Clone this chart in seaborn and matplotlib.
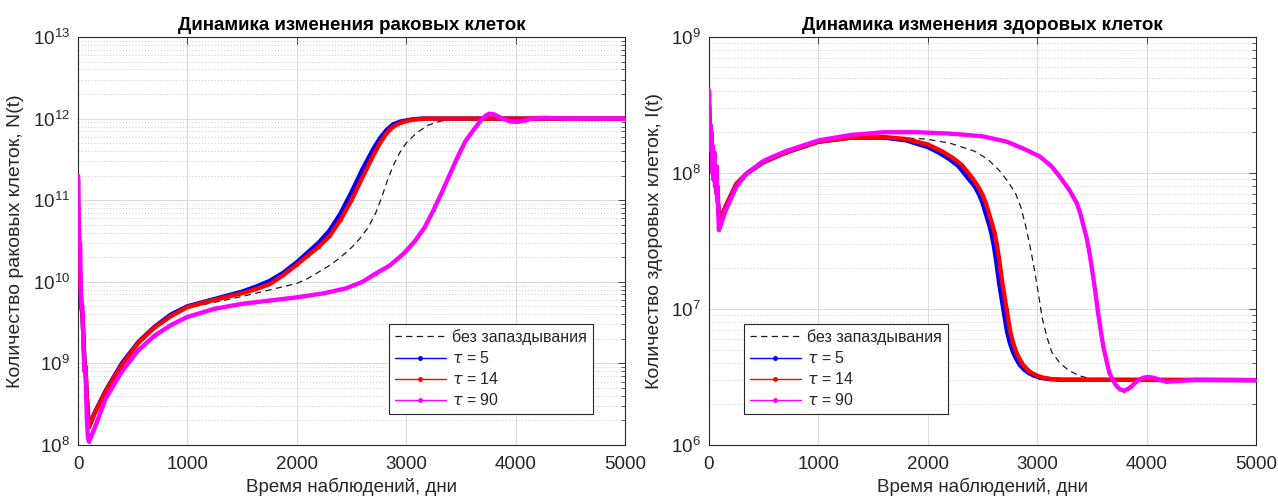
import numpy as np
import pandas as pd
import matplotlib
matplotlib.use("Agg")
import matplotlib.pyplot as plt
from matplotlib.lines import Line2D
from matplotlib.ticker import LogLocator, LogFormatterMathtext, FixedLocator, NullLocator
import seaborn as sns

# ---------------- data (log10 of cell counts) ----------------
# Left panel: cancer cells N(t)
t_n_nodelay = [0, 10, 20, 30, 40, 50, 60, 70, 80, 90, 100, 150, 250, 400, 550, 700, 850, 1000,
               1250, 1500, 1750, 2000, 2100, 2200, 2300, 2400, 2500, 2570, 2650, 2720, 2780,
               2830, 2890, 2940, 3000, 3090, 3200, 3320, 3470, 4000, 5000]
logn_nodelay = [10.5, 10.4, 10.2, 9.9, 9.7, 9.4, 9.1, 8.8, 8.5, 8.3, 8.22, 8.38, 8.65, 8.98, 9.25,
                9.44, 9.58, 9.68, 9.75, 9.82, 9.9, 9.98, 10.04, 10.12, 10.2, 10.3, 10.42, 10.52,
                10.66, 10.84, 11.05, 11.25, 11.45, 11.58, 11.7, 11.82, 11.92, 11.97, 12.0, 12.0,
                12.0]

t_n_tau5 = [0, 10, 20, 30, 40, 50, 60, 70, 80, 90, 100, 150, 250, 400, 550, 700, 850, 1000,
            1250, 1500, 1625, 1750, 1875, 2000, 2100, 2200, 2300, 2400, 2500, 2600, 2700, 2760,
            2820, 2880, 2950, 3050, 3150, 3500, 4000, 5000]
logn_tau5 = [10.5, 10.45, 10.0, 9.7, 9.6, 9.3, 9.0, 8.9, 8.6, 8.4, 8.22, 8.39, 8.66, 9.0, 9.26,
             9.45, 9.6, 9.7, 9.79, 9.88, 9.94, 10.01, 10.11, 10.24, 10.36, 10.48, 10.63, 10.84,
             11.1, 11.38, 11.63, 11.76, 11.86, 11.93, 11.965, 11.99, 12.0, 12.0, 12.0, 12.0]

t_n_tau14 = [0, 10, 20, 30, 40, 50, 60, 70, 80, 90, 100, 150, 250, 400, 550, 700, 850, 1000,
             1250, 1500, 1625, 1750, 1875, 2000, 2100, 2200, 2300, 2400, 2500, 2600, 2700, 2760,
             2820, 2880, 2950, 3050, 3150, 3500, 4000, 5000]
logn_tau14 = [10.5, 10.45, 10.05, 9.72, 9.62, 9.3, 9.0, 8.95, 8.6, 8.4, 8.22, 8.38, 8.65, 8.98,
              9.25, 9.44, 9.58, 9.69, 9.78, 9.86, 9.91, 9.97, 10.08, 10.21, 10.32, 10.43, 10.56,
              10.76, 11.0, 11.28, 11.55, 11.7, 11.82, 11.9, 11.95, 11.985, 12.0, 12.0, 12.0, 12.0]

t_n_tau90 = [0, 3, 6, 10, 15, 20, 25, 30, 35, 40, 45, 50, 55, 60, 65, 70, 75, 80, 90, 100,
             150, 250, 400, 550, 700, 850, 1000, 1250, 1500, 1750, 2000, 2250, 2450, 2600,
             2720, 2850, 2980, 3080, 3170, 3250, 3320, 3400, 3470, 3540, 3620, 3690, 3730,
             3760, 3800, 3850, 3900, 3950, 4010, 4080, 4150, 4250, 4350, 4500, 5000]
logn_tau90 = [11.3, 11.25, 10.9, 10.6, 10.47, 10.45, 10.0, 9.75, 9.68, 9.7, 9.5, 9.2, 9.0, 8.9,
              8.95, 8.85, 8.6, 8.35, 8.1, 8.04, 8.2, 8.56, 8.9, 9.16, 9.34, 9.47, 9.57, 9.67,
              9.73, 9.77, 9.81, 9.86, 9.92, 10.0, 10.1, 10.2, 10.35, 10.5, 10.67, 10.88, 11.08,
              11.32, 11.53, 11.72, 11.87, 11.99, 12.04, 12.06, 12.055, 12.02, 11.99, 11.965,
              11.96, 11.975, 12.0, 12.01, 12.005, 12.0, 12.0]

# Right panel: healthy cells I(t)
t_i_nodelay = [0, 10, 20, 30, 40, 50, 60, 70, 80, 90, 100, 150, 250, 350, 500, 700, 1000, 1500,
               1981, 2200, 2429, 2550, 2651, 2730, 2802, 2850, 2895, 2935, 2970, 3010, 3044,
               3090, 3135, 3210, 3287, 3380, 3474, 3600, 5000]
logi_nodelay = [8.5, 8.3, 8.22, 8.15, 8.1, 8.05, 7.95, 7.9, 7.8, 7.7, 7.65, 7.75, 7.92, 8.0,
                8.08, 8.15, 8.23, 8.27, 8.25, 8.22, 8.16, 8.1, 8.02, 7.94, 7.85, 7.75, 7.61,
                7.46, 7.31, 7.12, 6.94, 6.79, 6.68, 6.6, 6.55, 6.51, 6.49, 6.48, 6.477]

t_i_tau5 = [0, 10, 20, 30, 40, 50, 60, 70, 80, 90, 100, 150, 250, 350, 500, 700, 1000, 1300,
            1600, 1800, 2000, 2100, 2200, 2280, 2380, 2430, 2470, 2500, 2530, 2560, 2580, 2600,
            2620, 2650, 2670, 2690, 2710, 2725, 2750, 2780, 2810, 2840, 2880, 2920, 2970, 3025,
            3100, 3200, 5000]
logi_tau5 = [8.5, 8.3, 8.25, 8.15, 8.1, 8.05, 7.95, 7.9, 7.8, 7.7, 7.65, 7.75, 7.92, 8.0, 8.08,
             8.15, 8.23, 8.26, 8.26, 8.24, 8.19, 8.15, 8.1, 8.05, 7.95, 7.9, 7.84, 7.78, 7.7,
             7.62, 7.56, 7.48, 7.38, 7.2, 7.1, 7.0, 6.9, 6.83, 6.75, 6.68, 6.63, 6.59, 6.555,
             6.53, 6.51, 6.495, 6.485, 6.48, 6.477]

t_i_tau14 = [0, 10, 20, 30, 40, 50, 60, 70, 80, 90, 100, 150, 250, 350, 500, 700, 1000, 1300,
             1600, 1800, 2000, 2130, 2230, 2310, 2410, 2460, 2500, 2530, 2560, 2590, 2610, 2630,
             2650, 2680, 2700, 2720, 2740, 2755, 2780, 2810, 2840, 2870, 2910, 2950, 3000, 3055,
             3130, 3230, 5000]
logi_tau14 = [8.5, 8.3, 8.25, 8.15, 8.1, 8.05, 7.95, 7.9, 7.8, 7.7, 7.65, 7.75, 7.92, 8.0, 8.08,
              8.15, 8.23, 8.26, 8.265, 8.25, 8.21, 8.16, 8.11, 8.06, 7.96, 7.9, 7.84, 7.78, 7.7,
              7.62, 7.56, 7.48, 7.38, 7.2, 7.1, 7.0, 6.9, 6.83, 6.75, 6.68, 6.63, 6.59, 6.555,
              6.53, 6.51, 6.495, 6.485, 6.48, 6.477]

t_i_tau90 = [0, 3, 6, 10, 15, 20, 25, 30, 35, 40, 45, 50, 55, 60, 65, 70, 75, 80, 85, 90, 100,
             150, 250, 350, 500, 700, 1000, 1300, 1600, 1900, 2200, 2500, 2724, 2900, 3025,
             3130, 3209, 3290, 3361, 3395, 3420, 3450, 3474, 3500, 3529, 3555, 3585, 3605, 3625,
             3645, 3660, 3690, 3720, 3755, 3790, 3825, 3860, 3900, 3930, 3970, 4013, 4060, 4100,
             4180, 4300, 4450, 5000]
logi_tau90 = [8.61, 8.55, 8.3, 8.17, 8.35, 8.2, 8.3, 8.0, 8.2, 7.95, 8.1, 8.15, 7.9, 8.05, 7.85,
              8.05, 7.8, 7.9, 7.7, 7.58, 7.6, 7.72, 7.9, 8.0, 8.09, 8.16, 8.24, 8.28, 8.3, 8.3,
              8.29, 8.27, 8.23, 8.17, 8.12, 8.05, 7.97, 7.88, 7.78, 7.7, 7.62, 7.53, 7.43, 7.3,
              7.14, 6.98, 6.82, 6.72, 6.65, 6.58, 6.53, 6.48, 6.44, 6.41, 6.40, 6.41, 6.43, 6.46,
              6.48, 6.495, 6.50, 6.495, 6.485, 6.465, 6.47, 6.48, 6.477]

legend_labels = ["без запаздывания", r"$\tau$ = 5", r"$\tau$ = 14", r"$\tau$ = 90"]
titles = ["Динамика изменения раковых клеток", "Динамика изменения здоровых клеток"]
ylabels = ["Количество раковых клеток, N(t)", "Количество здоровых клеток, I(t)"]
xlabel = "Время наблюдений, дни"
x_ticks = [0, 1000, 2000, 3000, 4000, 5000]

# ---------------- styling ----------------
sns.set_theme(style="white")
plt.rcParams["font.family"] = ["Liberation Sans", "DejaVu Sans"]
plt.rcParams["mathtext.fontset"] = "dejavusans"

W, H = 1278, 498
fig = plt.figure(figsize=(W / 100, H / 100), dpi=100)
ax1 = fig.add_axes([78 / W, 53 / H, 547 / W, 408 / H])
ax2 = fig.add_axes([709 / W, 53 / H, 547 / W, 408 / H])

blue, red, mag = "#0000FF", "#FF0000", "#FF00FF"
tick_col = "#262626"


def draw(ax, series, ylim, title, ylabel, leg_anchor, leg_loc):
    t0, v0 = series[0]
    sns.lineplot(x=t0, y=10 ** np.array(v0), ax=ax, color="#1a1a1a", lw=0.9,
                 linestyle=(0, (5, 3.5)), sort=False, estimator=None, zorder=3)
    for (t, v), c in zip(series[1:], [blue, red, mag]):
        sns.lineplot(x=t, y=10 ** np.array(v), ax=ax, color=c, lw=3.1, sort=False,
                     estimator=None, zorder=4, solid_capstyle="round", solid_joinstyle="round",
                     marker="o", markersize=2.2, markeredgewidth=0)
    ax.set_yscale("log")
    ax.set_xlim(0, 5000)
    ax.set_ylim(*ylim)
    ax.xaxis.set_major_locator(FixedLocator(x_ticks))
    ax.xaxis.set_minor_locator(NullLocator())
    ax.yaxis.set_major_locator(LogLocator(base=10, numticks=20))
    ax.yaxis.set_minor_locator(LogLocator(base=10, subs=np.arange(2, 10), numticks=40))
    ax.yaxis.set_major_formatter(LogFormatterMathtext())
    ax.grid(True, which="major", axis="both", color="#dadada", lw=0.7, ls="-", zorder=0)
    ax.grid(True, which="minor", axis="y", color="#c4c4c4", lw=0.6, ls=(0, (1.2, 2.6)), zorder=0)
    ax.set_axisbelow(True)
    ax.tick_params(axis="both", which="both", direction="in", top=True, right=True,
                   colors=tick_col, labelsize=13.5, pad=6)
    ax.tick_params(axis="x", which="major", pad=8)
    ax.tick_params(axis="both", which="major", length=5, width=0.6)
    ax.tick_params(axis="both", which="minor", length=3, width=0.5)
    for s in ax.spines.values():
        s.set_color(tick_col)
        s.set_linewidth(0.8)
    ax.set_title(title, fontsize=13.5, fontweight="bold", pad=5, color="black")
    ax.set_xlabel(xlabel, fontsize=13.5, color=tick_col, labelpad=3)
    ax.set_ylabel(ylabel, fontsize=14, color=tick_col, labelpad=6)
    handles = [Line2D([], [], color="#1a1a1a", lw=0.9, ls=(0, (5, 3.5))),
               Line2D([], [], color=blue, lw=1.0, marker=".", markersize=5, markevery=[1]),
               Line2D([], [], color=red, lw=1.0, marker=".", markersize=5, markevery=[1]),
               Line2D([], [], color=mag, lw=1.0, marker=".", markersize=5, markevery=[1])]
    for h in handles[1:]:
        h.set_xdata([0, 0.5, 1]); h.set_ydata([0, 0, 0])
    leg = ax.legend(handles, legend_labels, loc=leg_loc, bbox_to_anchor=leg_anchor,
                    fontsize=11.5, frameon=True, fancybox=False, framealpha=1,
                    edgecolor="#262626", handlelength=3.2, handletextpad=0.4,
                    labelspacing=0.32, borderpad=0.35, borderaxespad=0)
    leg.get_frame().set_linewidth(0.8)
    for txt in leg.get_texts():
        txt.set_color(tick_col)


draw(ax1, [(t_n_nodelay, logn_nodelay), (t_n_tau5, logn_tau5), (t_n_tau14, logn_tau14),
           (t_n_tau90, logn_tau90)], (1e8, 1e13), titles[0], ylabels[0],
     (0.941, 0.076), "lower right")
draw(ax2, [(t_i_nodelay, logi_nodelay), (t_i_tau5, logi_tau5), (t_i_tau14, logi_tau14),
           (t_i_tau90, logi_tau90)], (1e6, 1e9), titles[1], ylabels[1],
     (0.064, 0.076), "lower left")

fig.savefig("out.png", dpi=100)
